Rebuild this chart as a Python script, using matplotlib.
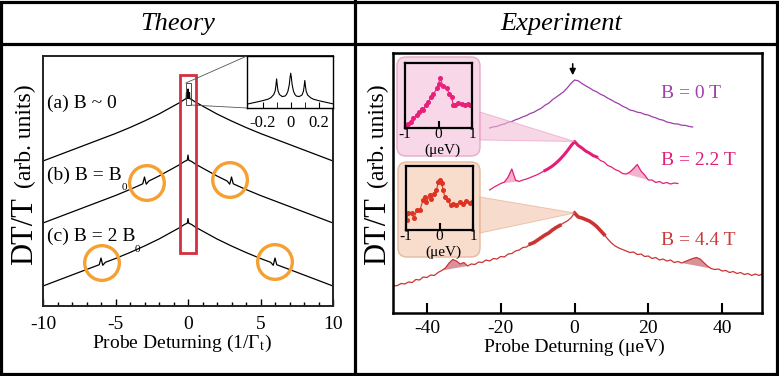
import numpy as np
import matplotlib
matplotlib.use("Agg")
import matplotlib.pyplot as plt
from matplotlib.patches import Rectangle, Ellipse, FancyBboxPatch, Polygon, ConnectionPatch

plt.rcParams['font.family'] = ['Liberation Serif', 'DejaVu Serif']
plt.rcParams['mathtext.fontset'] = 'stix'
plt.rcParams['axes.unicode_minus'] = False

# ---------------- data: theory ----------------
theory_labels = ["(a) B ~ 0", "(b) B = B", "(c) B = 2 B"]
xa = [-10, -9, -8, -7, -6, -5, -4, -3, -2, -1.5, -1, -0.5, -0.25, -0.12, -0.1, -0.08, -0.02, 0,
      0.02, 0.08, 0.1, 0.12, 0.25, 0.5, 1, 1.5, 2, 3, 4, 5, 6, 7, 8, 9, 10]
ya = [14.5, 15.05, 15.6, 16.15, 16.7, 17.25, 17.85, 18.5, 19.2, 19.6, 20.0, 20.4, 20.65, 20.74, 21.35,
      20.76, 20.8, 21.7, 20.8, 20.76, 21.35, 20.74, 20.65, 20.4, 20.0, 19.6, 19.2, 18.5, 17.85, 17.25,
      16.7, 16.15, 15.6, 15.05, 14.5]
xb = [-10, -9, -8, -7, -6, -5, -4, -3.3, -3.12, -3.0, -2.88, -2.7, -2, -1.5, -1, -0.5, -0.25, -0.05, 0,
      0.05, 0.25, 0.5, 1, 1.5, 2, 2.7, 2.88, 3.0, 3.12, 3.3, 4, 5, 6, 7, 8, 9, 10]
yb = [8.3, 8.85, 9.4, 9.95, 10.5, 11.05, 11.65, 12.1, 12.22, 12.9, 12.18, 12.5, 13.0, 13.4, 13.8, 14.2,
      14.45, 14.58, 15.1, 14.58, 14.45, 14.2, 13.8, 13.4, 13.0, 12.5, 12.18, 12.9, 12.22, 12.1, 11.65,
      11.05, 10.5, 9.95, 9.4, 8.85, 8.3]
xc = [-10, -9, -8, -7, -6.3, -6.12, -6.0, -5.88, -5.7, -5, -4, -3, -2, -1.5, -1, -0.5, -0.25, -0.05, 0,
      0.05, 0.25, 0.5, 1, 1.5, 2, 3, 4, 5, 5.7, 5.88, 6.0, 6.12, 6.3, 7, 8, 9, 10]
yc = [2.0, 2.55, 3.1, 3.65, 4.03, 4.13, 4.8, 4.07, 4.37, 4.75, 5.35, 6.0, 6.7, 7.1, 7.5, 7.9, 8.15, 8.28,
      8.75, 8.28, 8.15, 7.9, 7.5, 7.1, 6.7, 6.0, 5.35, 4.75, 4.37, 4.07, 4.8, 4.13, 4.03, 3.65, 3.1, 2.55, 2.0]
# zoomed inset of curve (a)
xi = [-0.3, -0.25, -0.2, -0.16, -0.14, -0.12, -0.11, -0.105, -0.1, -0.095, -0.09, -0.08, -0.06, -0.04,
      -0.03, -0.02, -0.01, -0.005, 0, 0.005, 0.01, 0.02, 0.03, 0.04, 0.06, 0.08, 0.09, 0.095, 0.1, 0.105,
      0.11, 0.12, 0.14, 0.16, 0.2, 0.25, 0.3]
yi = [0.08, 0.11, 0.14, 0.17, 0.2, 0.26, 0.33, 0.43, 0.56, 0.43, 0.33, 0.26, 0.22, 0.23, 0.26, 0.32, 0.45,
      0.58, 0.67, 0.58, 0.45, 0.32, 0.26, 0.23, 0.22, 0.25, 0.32, 0.41, 0.53, 0.41, 0.32, 0.25, 0.2, 0.17,
      0.14, 0.11, 0.08]
theory_xticks = [-10, -5, 0, 5, 10]
inset_xticks = [-0.2, 0, 0.2]

# ---------------- data: experiment ----------------
exp_labels = ["B = 0 T", "B = 2.2 T", "B = 4.4 T"]
x0T = np.arange(-23, 33)
y0T = [18.5, 18.62, 18.66, 18.82, 18.9, 19.08, 19.15, 19.32, 19.45, 19.62, 19.75, 19.95, 20.08, 20.3,
       20.48, 20.78, 20.98, 21.32, 21.58, 21.85, 22.12, 22.5, 22.95, 23.3, 23.22, 22.95, 22.72, 22.52,
       22.28, 22.12, 21.88, 21.72, 21.48, 21.3, 21.08, 20.92, 20.68, 20.52, 20.3, 20.22, 20.08, 20.02,
       19.86, 19.8, 19.62, 19.52, 19.36, 19.28, 19.1, 19.02, 18.92, 18.9, 18.78, 18.76, 18.66, 18.6]
x22 = np.arange(-23, 29)
y22 = [12.3, 12.55, 12.75, 12.95, 13.1, 13.6, 14.4, 13.3, 13.15, 13.3, 13.4, 13.55, 13.7, 13.85, 14.05,
       14.25, 14.45, 14.7, 15.0, 15.35, 15.75, 16.2, 16.7, 17.15, 16.75, 16.5, 16.2, 16.0, 15.75, 15.6,
       15.25, 15.1, 14.75, 14.6, 14.35, 14.2, 13.95, 13.9, 14.1, 14.45, 14.85, 14.2, 13.8, 13.3, 13.3,
       13.05, 13.15, 12.95, 13.05, 12.9, 13.0, 12.95]
x44 = np.arange(-49, 52)
y44 = [2.7, 2.75, 2.95, 2.9, 3.1, 3.05, 3.35, 3.3, 3.6, 3.55, 3.8, 3.75, 4.05, 4.25, 4.5, 5.0, 5.35, 5.2,
       4.9, 5.05, 4.7, 4.9, 4.85, 5.1, 5.05, 5.3, 5.2, 5.45, 5.4, 5.65, 5.6, 5.9, 5.95, 6.2, 6.3, 6.55,
       6.6, 6.9, 7.05, 7.3, 7.55, 7.8, 8.0, 8.3, 8.55, 8.75, 9.0, 9.2, 9.5, 10.0, 9.6, 9.5, 9.35, 9.2,
       8.95, 8.65, 8.25, 7.85, 7.4, 7.0, 6.7, 6.5, 6.35, 6.2, 6.05, 6.1, 5.85, 5.9, 5.65, 5.7, 5.45,
       5.55, 5.3, 5.4, 5.2, 5.3, 5.05, 5.15, 5.0, 5.15, 5.3, 5.45, 5.55, 5.4, 5.05, 4.7, 4.45, 4.35,
       4.4, 4.2, 4.25, 4.05, 4.15, 3.95, 4.05, 3.85, 3.95, 3.75, 3.9, 3.75, 3.95]
exp_xticks = [-40, -20, 0, 20, 40]
# zoomed data insets
xp = [-0.98, -0.9, -0.83, -0.75, -0.65, -0.57, -0.5, -0.45, -0.37, -0.3, -0.23, -0.15, -0.05, 0.0,
      0.045, 0.14, 0.24, 0.32, 0.39, 0.44, 0.49, 0.59, 0.69, 0.79, 0.89, 0.94]
yp = [0.05, 0.06, 0.1, 0.15, 0.2, 0.25, 0.3, 0.28, 0.36, 0.4, 0.47, 0.52, 0.61, 0.67, 0.77, 0.64, 0.61,
      0.53, 0.48, 0.36, 0.35, 0.39, 0.37, 0.36, 0.37, 0.35]
xq = [-0.98, -0.93, -0.83, -0.76, -0.68, -0.58, -0.49, -0.44, -0.39, -0.29, -0.24, -0.17, -0.09, -0.04,
      0.01, 0.06, 0.11, 0.16, 0.26, 0.33, 0.41, 0.5, 0.6, 0.7, 0.8, 0.9, 0.96]
yq = [0.16, 0.26, 0.26, 0.18, 0.32, 0.32, 0.47, 0.52, 0.44, 0.54, 0.48, 0.57, 0.62, 0.75, 0.78, 0.74,
      0.62, 0.52, 0.47, 0.39, 0.41, 0.39, 0.44, 0.4, 0.45, 0.42, 0.44]

c0, c22, c44 = '#9c3fa8', '#e41e78', '#cc3333'
orange = '#f5a030'

W, H = 779, 376
fig = plt.figure(figsize=(W / 100, H / 100), dpi=100)


def fa(x0, y0, x1, y1):
    return [x0 / W, 1 - y1 / H, (x1 - x0) / W, (y1 - y0) / H]


# ---------------- left: theory ----------------
axL = fig.add_axes(fa(43, 56, 333, 306))
axL.set_xlim(-10, 10)
axL.set_ylim(0, 25)
for xs, ys in ((xa, ya), (xb, yb), (xc, yc)):
    axL.plot(xs, ys, color='k', lw=0.9)
axL.set_yticks([])
axL.set_xticks(theory_xticks)
axL.set_xticklabels([str(t) for t in theory_xticks])
axL.set_xticks(np.arange(-10, 11, 1), minor=True)
axL.tick_params(axis='x', which='both', direction='in', top=False, labelsize=14, pad=7)
axL.tick_params(axis='x', which='major', length=5, width=1)
axL.tick_params(axis='x', which='minor', length=3, width=1)
for s in axL.spines.values():
    s.set_linewidth(1.4)
    s.set_color('#222222')
# circles around side features
for (cx, cy) in [(-2.83, 12.3), (2.9, 12.6), (-5.93, 4.3), (6.0, 4.4)]:
    axL.add_patch(Ellipse((cx, cy), 2.39, 3.47, fill=False, ec=orange, lw=2.4, zorder=4))
axL.add_patch(Rectangle((-0.55, 5.3), 1.1, 17.8, fill=False, ec='#d43040', lw=2, zorder=4))
axL.add_patch(Rectangle((-0.15, 20.1), 0.35, 2.2, fill=False, ec='#333333', lw=0.6, zorder=4))

axLi = fig.add_axes(fa(247, 56, 333, 108), zorder=4)
axLi.plot(xi, yi, color='k', lw=0.8)
axLi.set_xlim(-0.31, 0.3)
axLi.set_ylim(0, 1)
axLi.set_yticks([])
axLi.set_xticks(inset_xticks)
axLi.set_xticklabels(['-0.2', '0', '0.2'])
axLi.set_xticks([-0.1, 0.1], minor=True)
axLi.tick_params(axis='x', which='both', direction='in', length=4, labelsize=12, pad=5)
for s in axLi.spines.values():
    s.set_linewidth(1.0)
for xyA, xyB in [((-0.15, 22.3), (0, 1)), ((0.2, 20.1), (0, 0))]:
    con = ConnectionPatch(xyA=xyA, coordsA=axL.transData, xyB=xyB, coordsB=axLi.transAxes,
                          color='#555555', lw=0.6)
    fig.add_artist(con)

# ---------------- right: experiment ----------------
axR = fig.add_axes(fa(393, 53, 762, 313))
axR.set_xlim(-49.2, 50.8)
axR.set_ylim(0, 26)
x0T = np.asarray(x0T); y0T = np.asarray(y0T)
x22 = np.asarray(x22); y22 = np.asarray(y22)
x44 = np.asarray(x44); y44 = np.asarray(y44)
axR.plot(x0T, y0T, color=c0, lw=0.9)
axR.plot(x22, y22, color=c22, lw=0.9)
axR.plot(x44, y44, color=c44, lw=0.9)
m = (x22 >= -8) & (x22 <= 6)
axR.plot(x22[m], y22[m], color=c22, lw=2.2)
for lo, hi in [(-12, -4), (0, 8)]:
    m = (x44 >= lo) & (x44 <= hi)
    axR.plot(x44[m], y44[m], color=c44, lw=2.6)
for lo, hi in [(-20, -15), (14, 20)]:
    m = (x22 >= lo) & (x22 <= hi)
    axR.fill(x22[m], y22[m], color='#f0a0c4', alpha=0.8, lw=0)
for lo, hi in [(-36, -29), (29, 37)]:
    m = (x44 >= lo) & (x44 <= hi)
    axR.fill(x44[m], y44[m], color='#c04858', alpha=0.6, lw=0)
axR.set_yticks([])
axR.set_xticks(exp_xticks)
axR.set_xticklabels([str(t) for t in exp_xticks])
axR.tick_params(axis='x', direction='in', length=7, width=1.5, labelsize=14, pad=5)
for s in axR.spines.values():
    s.set_linewidth(1.8)
axR.annotate('', xy=(-0.5, 23.5), xytext=(-0.5, 25.2),
             arrowprops=dict(arrowstyle='-|>', color='k', lw=1.1, mutation_scale=9))
for lab, col, yy in zip(exp_labels, ['#a040a8', '#e0207a', '#c83c3c'], [22.0, 15.3, 7.3]):
    axR.text(23.5, yy, lab, color=col, fontsize=14, va='center', ha='left')

# ---------------- overlay: frames, boxes, texts ----------------
ov = fig.add_axes([0, 0, 1, 1], zorder=3)
ov.set_xlim(0, W)
ov.set_ylim(H, 0)
ov.axis('off')
ov.patch.set_alpha(0)

lw_frame = 2.3
ov.add_patch(Rectangle((1.5, 1.5), 775.5, 372, fill=False, ec='k', lw=lw_frame))
ov.plot([0, W], [43.5, 43.5], color='k', lw=lw_frame)
ov.plot([355.5, 355.5], [0, H], color='k', lw=lw_frame)

ov.text(178, 24, 'Theory', fontsize=19, style='italic', ha='center', va='center')
ov.text(561, 24, 'Experiment', fontsize=19, style='italic', ha='center', va='center')

for xc_ in (25, 378):
    ov.text(xc_, 231, 'DT/T', fontsize=22, rotation=90, ha='center', va='center')
    ov.text(xc_, 136, '(arb. units)', fontsize=17, rotation=90, ha='center', va='center')

ov.text(182, 343, 'Probe Deturning (1/Γ$_{\\mathrm{t}}$)', fontsize=14, ha='center', va='center')
ov.text(574, 347, 'Probe Deturning (μeV)', fontsize=14, ha='center', va='center')

for lab, yy in zip(theory_labels, [103, 175, 236]):
    ov.text(47, yy, lab, fontsize=14, ha='left', va='center')
ov.text(124, 188, '0', fontsize=8, ha='center', va='center')
ov.text(137, 249, '0', fontsize=8, ha='center', va='center')

# rounded inset boxes and wedges
ov.add_patch(FancyBboxPatch((397, 57), 83, 99, boxstyle='round,pad=0,rounding_size=9',
                            fc='#f8d8e8', ec='#e8aacb', lw=1))
ov.add_patch(FancyBboxPatch((398, 162), 82, 95, boxstyle='round,pad=0,rounding_size=9',
                            fc='#f8dccc', ec='#e6b89e', lw=1))
inv = ov.transData.inverted()
tip22 = inv.transform(axR.transData.transform((x22[np.argmax(y22)], y22.max())))
tip44 = inv.transform(axR.transData.transform((x44[np.argmax(y44)], y44.max())))
ov.add_patch(Polygon([(480, 112), (480, 140), tuple(tip22)], closed=True, fc='#f2bcd6', alpha=0.6,
                     ec='#e898bc', lw=0.7))
ov.add_patch(Polygon([(480, 197), (480, 233), tuple(tip44)], closed=True, fc='#f3c6ae', alpha=0.6,
                     ec='#e0a888', lw=0.7))

for axpos, xs, ys, col, fc in [((405, 63, 472, 128), xp, yp, '#e8207a', '#f8d8e8'),
                               ((406, 166, 473, 230), xq, yq, '#dd3322', '#f8dccc')]:
    a = fig.add_axes(fa(*axpos), zorder=4)
    a.set_facecolor(fc)
    a.plot(xs, ys, color=col, lw=0.8, marker='o', ms=2.6, mec=col, mfc=col)
    a.set_xlim(-1, 1)
    a.set_ylim(0, 1)
    a.set_yticks([])
    a.set_xticks([-1, 0, 1])
    a.set_xticklabels(['-1', '0', '1'])
    a.tick_params(axis='x', direction='in', length=5, width=1.5, labelsize=11, pad=0)
    for s in a.spines.values():
        s.set_linewidth(1.6)
    ov.text((axpos[0] + axpos[2]) / 2 + 4, axpos[3] + 22, '(μeV)', fontsize=11, ha='center', va='center')

fig.savefig('out.png', dpi=100)
